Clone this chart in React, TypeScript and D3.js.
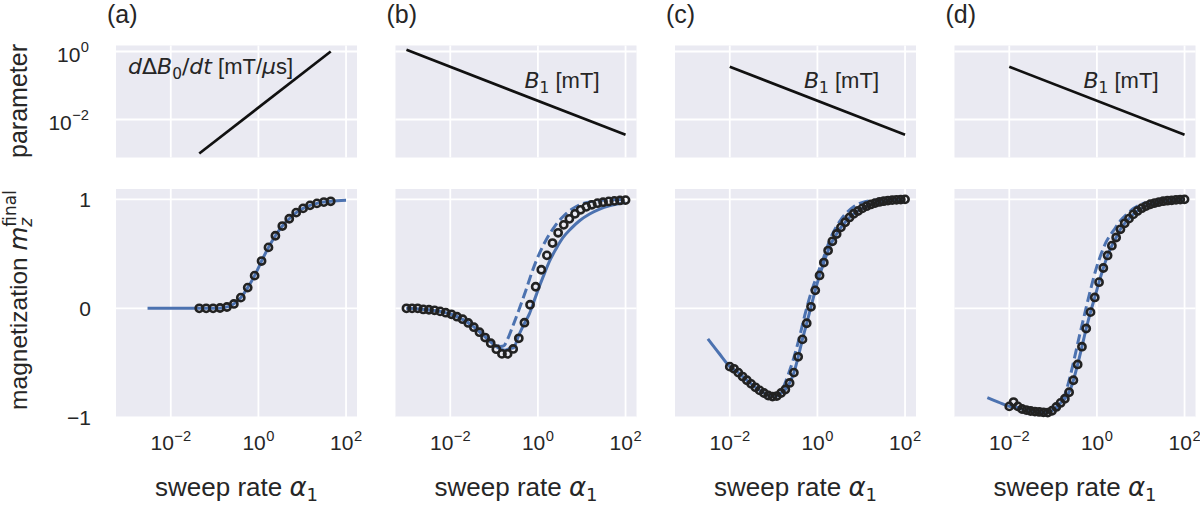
import React from "react";
import * as d3 from "d3";

// ---------- layout ----------
const W = 1200;
const H = 509;
const PANEL_W = 241;
const PANEL_STEP = 279.5;
const FIRST_LEFT = 116;
const TOP_Y0 = 45.5;
const TOP_Y1 = 157.5;
const BOT_Y0 = 189;
const BOT_Y1 = 417.3;

// ---------- text ----------
const panelLabels = ["(a)", "(b)", "(c)", "(d)"];
const xTickValues = [0.01, 1, 100];
const xTickExps = ["−2", "0", "2"];
const topTickValues = [1, 0.01];
const topTickExps = ["0", "−2"];
const botTickValues = [1, 0, -1];
const botTickLabels = ["1", "0", "−1"];

// ---------- top row: parameters ----------
const paramA_alpha = [0.04467, 44.67];
const paramA_value = [0.001, 1.0];
const paramB_alpha = [0.001, 100];
const paramB_value = [1.12, 0.00355];
const paramCD_alpha = [0.01, 100];
const paramCD_value = [0.355, 0.00355];

// ---------- panel (a) ----------
const a_circleAlpha = [0.04467, 0.06427, 0.09247, 0.133, 0.1914, 0.2754, 0.3962, 0.57, 0.8201, 1.18, 1.697, 2.442, 3.513, 5.054, 7.271, 10.46, 15.05, 21.66, 31.16, 44.67];
const a_circleM = [0, 0, 0, 0.003, 0.012, 0.04, 0.098, 0.19, 0.3, 0.434, 0.559, 0.666, 0.755, 0.822, 0.878, 0.917, 0.945, 0.963, 0.975, 0.982];
const a_solidAlpha = [0.00295, 0.0316, 0.1, 0.158, 0.251, 0.3962, 0.57, 0.8201, 1.18, 1.697, 2.442, 3.513, 5.054, 7.271, 10.46, 15.05, 21.66, 31.16, 44.67, 100];
const a_solidM = [0, 0, 0.001, 0.006, 0.03, 0.098, 0.19, 0.3, 0.434, 0.559, 0.666, 0.755, 0.822, 0.878, 0.917, 0.945, 0.963, 0.975, 0.982, 0.992];

// ---------- panel (b) ----------
const b_circleAlpha = [0.001, 0.001343, 0.001804, 0.002424, 0.003257, 0.004375, 0.005878, 0.007897, 0.01061, 0.01425, 0.01914, 0.02572, 0.03455, 0.04642, 0.06236, 0.08377, 0.1125, 0.1512, 0.2031, 0.2729, 0.3665, 0.4924, 0.6616, 0.8889, 1.194, 1.604, 2.154, 2.894, 3.888, 5.223, 7.017, 9.427, 12.66, 17.01, 22.85, 30.7, 41.25, 55.41, 74.44, 100];
const b_circleM = [0, 0, 0, -0.01, -0.013, -0.018, -0.028, -0.04, -0.055, -0.077, -0.1, -0.134, -0.173, -0.219, -0.268, -0.32, -0.375, -0.418, -0.418, -0.373, -0.275, -0.132, 0.033, 0.198, 0.354, 0.486, 0.599, 0.693, 0.766, 0.821, 0.867, 0.904, 0.931, 0.95, 0.965, 0.974, 0.981, 0.986, 0.99, 0.993];
const b_solidAlpha = [0.001, 0.002512, 0.00631, 0.01, 0.01585, 0.02512, 0.03981, 0.0631, 0.1, 0.1413, 0.1778, 0.2239, 0.2818, 0.3548, 0.4898, 0.6457, 0.8318, 1.072, 1.413, 1.82, 2.63, 3.715, 5.754, 8.913, 15.14, 25.7, 42.66, 100];
const b_solidM = [0, -0.01, -0.03, -0.052, -0.085, -0.13, -0.19, -0.265, -0.335, -0.375, -0.385, -0.37, -0.36, -0.26, -0.14, -0.046, 0.076, 0.198, 0.321, 0.428, 0.55, 0.648, 0.734, 0.804, 0.865, 0.91, 0.94, 0.97];
const b_dashAlpha = [0.001, 0.002512, 0.00631, 0.01, 0.01585, 0.02512, 0.03981, 0.0631, 0.1, 0.1413, 0.166, 0.1995, 0.263, 0.3802, 0.537, 0.7586, 1.072, 1.549, 2.399, 3.715, 6.31, 10.72, 21.38, 42.66, 100];
const b_dashM = [0, -0.01, -0.03, -0.052, -0.085, -0.13, -0.19, -0.26, -0.32, -0.35, -0.345, -0.29, -0.17, 0.0, 0.17, 0.35, 0.5, 0.63, 0.75, 0.84, 0.917, 0.963, 0.985, 0.995, 0.998];

// ---------- panels (c) and (d) ----------
const cd_circleAlpha = [0.01, 0.01252, 0.01567, 0.01962, 0.02456, 0.03075, 0.03849, 0.04818, 0.06032, 0.07551, 0.09453, 0.1183, 0.1481, 0.1855, 0.2322, 0.2906, 0.3638, 0.4555, 0.5702, 0.7138, 0.8936, 1.119, 1.401, 1.754, 2.195, 2.748, 3.44, 4.307, 5.392, 6.75, 8.45, 10.58, 13.24, 16.58, 20.75, 25.98, 32.52, 40.71, 50.97, 63.81, 79.88, 100];
const c_circleM = [-0.535, -0.555, -0.59, -0.626, -0.66, -0.693, -0.725, -0.753, -0.777, -0.8, -0.81, -0.805, -0.777, -0.745, -0.685, -0.59, -0.445, -0.285, -0.137, 0.014, 0.165, 0.302, 0.42, 0.53, 0.615, 0.682, 0.743, 0.79, 0.834, 0.868, 0.893, 0.917, 0.937, 0.953, 0.966, 0.976, 0.983, 0.989, 0.993, 0.996, 0.998, 1.0];
const c_solidAlpha = [0.003162, 0.005623, 0.01, 0.01567, 0.02456, 0.03849, 0.06032, 0.09453, 0.1183, 0.1481, 0.1855, 0.2322, 0.2906, 0.3638, 0.4555, 0.5702, 0.7138, 0.8936, 1.119, 1.401, 1.754, 2.195, 2.748, 3.44, 4.307, 5.392, 6.75, 8.45, 10.58, 16.58, 25.98, 40.71, 63.81, 100];
const c_solidM = [-0.28, -0.41, -0.535, -0.59, -0.66, -0.725, -0.777, -0.81, -0.805, -0.777, -0.745, -0.685, -0.59, -0.445, -0.285, -0.137, 0.014, 0.165, 0.302, 0.42, 0.53, 0.615, 0.682, 0.743, 0.79, 0.834, 0.868, 0.893, 0.917, 0.953, 0.976, 0.989, 0.996, 1.0];
const c_dashAlpha = [0.09453, 0.1413, 0.1778, 0.2153, 0.2799, 0.3837, 0.5176, 0.7096, 0.9886, 1.409, 1.932, 3.266, 6.607, 11.22, 25.12, 100];
const c_dashM = [-0.81, -0.78, -0.7, -0.61, -0.474, -0.275, -0.061, 0.138, 0.306, 0.473, 0.63, 0.8, 0.93, 0.975, 0.995, 1.0];

const d_circleM = [-0.9, -0.86, -0.9, -0.924, -0.934, -0.942, -0.948, -0.951, -0.954, -0.957, -0.94, -0.905, -0.868, -0.83, -0.77, -0.66, -0.515, -0.352, -0.185, -0.035, 0.1, 0.24, 0.37, 0.485, 0.575, 0.65, 0.725, 0.78, 0.823, 0.862, 0.893, 0.919, 0.938, 0.955, 0.966, 0.975, 0.983, 0.988, 0.991, 0.995, 0.998, 1.0];
const d_solidAlpha = [0.003162, 0.005623, 0.01, 0.01567, 0.01962, 0.02456, 0.03075, 0.03849, 0.04818, 0.06032, 0.07551, 0.09453, 0.1183, 0.1481, 0.1855, 0.2322, 0.2906, 0.3638, 0.4555, 0.5702, 0.7138, 0.8936, 1.119, 1.401, 1.754, 2.195, 2.748, 3.44, 4.307, 5.392, 6.75, 8.45, 10.58, 16.58, 25.98, 40.71, 63.81, 100];
const d_solidM = [-0.82, -0.86, -0.9, -0.912, -0.924, -0.934, -0.942, -0.948, -0.951, -0.954, -0.957, -0.94, -0.905, -0.868, -0.83, -0.77, -0.66, -0.515, -0.352, -0.185, -0.035, 0.1, 0.24, 0.37, 0.485, 0.575, 0.65, 0.725, 0.78, 0.823, 0.862, 0.893, 0.919, 0.955, 0.975, 0.988, 0.995, 1.0];
const d_dashAlpha = [0.1, 0.1585, 0.1905, 0.2399, 0.302, 0.3802, 0.4786, 0.6026, 0.7586, 0.955, 1.202, 1.585, 2.455, 3.548, 5.012, 7.079, 10, 15.85, 31.62, 100];
const d_dashM = [-0.935, -0.87, -0.78, -0.64, -0.47, -0.29, -0.12, 0.05, 0.21, 0.36, 0.48, 0.6, 0.72, 0.81, 0.87, 0.92, 0.955, 0.975, 0.99, 1.0];

// ---------- styles ----------
const BG = "#EAEAF2";
const BLUE = "#4C72B0";
const TXT = "#262626";
const SANS = "'Liberation Sans', Arial, Helvetica, sans-serif";
const MATH = "'DejaVu Sans', sans-serif";
const TICK_FS = 21;
const SUP_FS = 14.7;

type Series = { alpha: number[]; v: number[] } | null;
const zip = (s: { alpha: number[]; v: number[] }) => s.alpha.map((a, i) => [a, s.v[i]] as [number, number]);

const panels = [
  {
    param: { alpha: paramA_alpha, v: paramA_value },
    circles: { alpha: a_circleAlpha, v: a_circleM },
    solid: { alpha: a_solidAlpha, v: a_solidM },
    dashed: null as Series,
  },
  {
    param: { alpha: paramB_alpha, v: paramB_value },
    circles: { alpha: b_circleAlpha, v: b_circleM },
    solid: { alpha: b_solidAlpha, v: b_solidM },
    dashed: { alpha: b_dashAlpha, v: b_dashM } as Series,
  },
  {
    param: { alpha: paramCD_alpha, v: paramCD_value },
    circles: { alpha: cd_circleAlpha, v: c_circleM },
    solid: { alpha: c_solidAlpha, v: c_solidM },
    dashed: { alpha: c_dashAlpha, v: c_dashM } as Series,
  },
  {
    param: { alpha: paramCD_alpha, v: paramCD_value },
    circles: { alpha: cd_circleAlpha, v: d_circleM },
    solid: { alpha: d_solidAlpha, v: d_solidM },
    dashed: { alpha: d_dashAlpha, v: d_dashM } as Series,
  },
];

function ParamLabel({ idx, x }: { idx: number; x: number }) {
  if (idx === 0) {
    return (
      <text x={x + 12} y={74} fontSize={22} fill={TXT} fontFamily={SANS}>
        <tspan fontFamily={MATH} fontStyle="italic">d</tspan>
        <tspan fontFamily={MATH}>Δ</tspan>
        <tspan fontFamily={MATH} fontStyle="italic">B</tspan>
        <tspan fontFamily={MATH} fontSize={15.4} dy={5}>0</tspan>
        <tspan fontFamily={MATH} dy={-5}>/</tspan>
        <tspan fontFamily={MATH} fontStyle="italic">dt</tspan>
        <tspan>{" [mT/"}</tspan>
        <tspan fontFamily={MATH} fontStyle="italic">μ</tspan>
        <tspan>s]</tspan>
      </text>
    );
  }
  return (
    <text x={x + 129} y={88} fontSize={22} fill={TXT} fontFamily={SANS}>
      <tspan fontFamily={MATH} fontStyle="italic">B</tspan>
      <tspan fontFamily={MATH} fontSize={15.4} dy={5}>1</tspan>
      <tspan dy={-5}>{" [mT]"}</tspan>
    </text>
  );
}

export default function App() {
  return (
    <svg width={W} height={H} style={{ position: "absolute", left: 0, top: 0, background: "#fff" }}>
      {panels.map((p, i) => {
        const left = FIRST_LEFT + i * PANEL_STEP;
        const right = left + PANEL_W;
        const x = d3.scaleLog().domain([Math.pow(10, -3.25), Math.pow(10, 2.25)]).range([left, right]);
        const yTop = d3.scaleLog().domain([Math.pow(10, -3.118), Math.pow(10, 0.176)]).range([TOP_Y1, TOP_Y0]);
        const yBot = d3.scaleLinear().domain([-1.0, 1.095]).range([BOT_Y1, BOT_Y0]);
        const lineTop = d3.line<[number, number]>().x((d) => x(d[0])).y((d) => yTop(d[1]));
        const lineBot = d3
          .line<[number, number]>()
          .x((d) => x(d[0]))
          .y((d) => yBot(d[1]))
          .curve(d3.curveMonotoneX);
        const cx = (left + right) / 2;
        return (
          <g key={i}>
            {/* title */}
            <text x={left - 9} y={23} fontSize={25} fill={TXT} fontFamily={SANS}>
              {panelLabels[i]}
            </text>
            {/* top panel */}
            <rect x={left} y={TOP_Y0} width={PANEL_W} height={TOP_Y1 - TOP_Y0} fill={BG} />
            {xTickValues.map((t) => (
              <line key={"tx" + t} x1={x(t)} x2={x(t)} y1={TOP_Y0} y2={TOP_Y1} stroke="#fff" strokeWidth={1.8} />
            ))}
            {topTickValues.map((t) => (
              <line key={"ty" + t} x1={left} x2={right} y1={yTop(t)} y2={yTop(t)} stroke="#fff" strokeWidth={1.8} />
            ))}
            <path d={lineTop(zip(p.param)) || ""} fill="none" stroke="#111" strokeWidth={2.7} />
            <ParamLabel idx={i} x={left} />
            {/* bottom panel */}
            <rect x={left} y={BOT_Y0} width={PANEL_W} height={BOT_Y1 - BOT_Y0} fill={BG} />
            {xTickValues.map((t) => (
              <line key={"bx" + t} x1={x(t)} x2={x(t)} y1={BOT_Y0} y2={BOT_Y1} stroke="#fff" strokeWidth={1.8} />
            ))}
            {botTickValues.map((t) => (
              <line key={"by" + t} x1={left} x2={right} y1={yBot(t)} y2={yBot(t)} stroke="#fff" strokeWidth={1.8} />
            ))}
            <path d={lineBot(zip(p.solid)) || ""} fill="none" stroke={BLUE} strokeWidth={3} />
            {p.dashed && (
              <path
                d={lineBot(zip(p.dashed)) || ""}
                fill="none"
                stroke={BLUE}
                strokeWidth={3}
                strokeDasharray="10 4.5"
              />
            )}
            {zip(p.circles).map((d, k) => (
              <circle key={k} cx={x(d[0])} cy={yBot(d[1])} r={3.6} fill="none" stroke="#222" strokeWidth={2.6} />
            ))}
            {/* x tick labels */}
            {xTickValues.map((t, k) => (
              <text key={"xl" + t} x={x(t)} y={450} textAnchor="middle" fontSize={TICK_FS} fill={TXT} fontFamily={SANS}>
                10
                <tspan fontSize={SUP_FS} dx={0.5} dy={-9.5}>
                  {xTickExps[k]}
                </tspan>
              </text>
            ))}
            {/* x label */}
            <text x={cx} y={496} textAnchor="middle" fontSize={26} fill={TXT} fontFamily={SANS}>
              {"sweep rate "}
              <tspan fontFamily={MATH} fontStyle="italic">α</tspan>
              <tspan fontFamily={MATH} fontSize={18} dy={5}>1</tspan>
            </text>
            {/* y ticks on first column */}
            {i === 0 &&
              topTickValues.map((t, k) => (
                <text key={"ytl" + t} x={left - 27} y={yTop(t) + 10.5} textAnchor="end" fontSize={TICK_FS} fill={TXT} fontFamily={SANS}>
                  10
                  <tspan fontSize={SUP_FS} dx={0.5} dy={-9.5}>
                    {topTickExps[k]}
                  </tspan>
                </text>
              ))}
            {i === 0 &&
              botTickValues.map((t, k) => (
                <text key={"ybl" + t} x={left - 25} y={yBot(t) + 7.5} textAnchor="end" fontSize={TICK_FS} fill={TXT} fontFamily={SANS}>
                  {botTickLabels[k]}
                </text>
              ))}
          </g>
        );
      })}
      {/* y labels */}
      <text transform="translate(27,101) rotate(-90)" textAnchor="middle" fontSize={25} fill={TXT} fontFamily={SANS}>
        parameter
      </text>
      <text transform="translate(27,300) rotate(-90)" textAnchor="middle" fontSize={24.5} fill={TXT} fontFamily={SANS}>
        {"magnetization "}
        <tspan fontFamily={MATH} fontStyle="italic">m</tspan>
        <tspan fontFamily={MATH} fontStyle="italic" fontSize={17} dy={5}>z</tspan>
        <tspan fontFamily={MATH} fontSize={17} dx={-9} dy={-16}>final</tspan>
      </text>
    </svg>
  );
}
